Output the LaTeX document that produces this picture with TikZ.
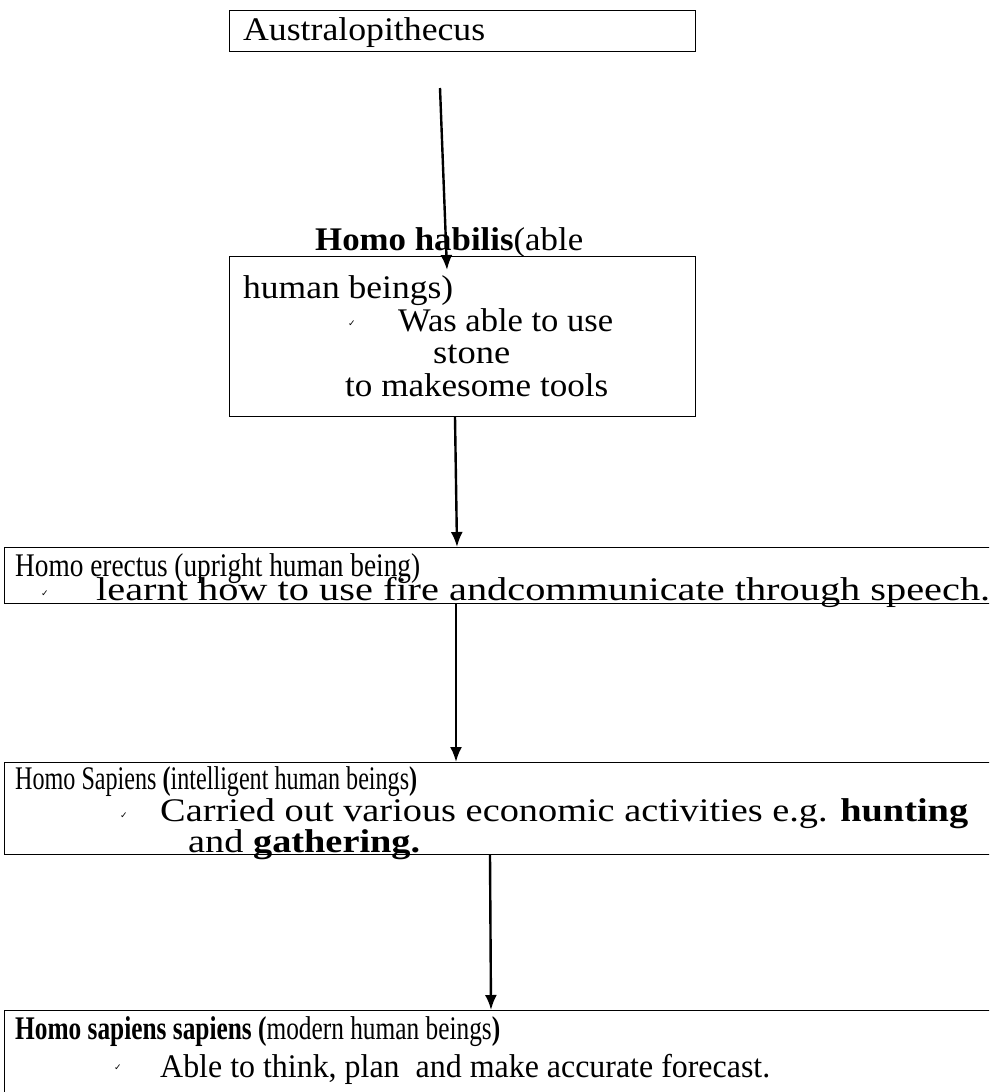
\documentclass[tikz,border=0pt]{standalone}
\usepackage{fontspec}
\setmainfont{Liberation Serif}
\newfontfamily\symfont{DejaVu Sans}
\usetikzlibrary{arrows.meta}
\newcommand\fitw[2]{\resizebox{#1pt}{\height}{#2}}
\tikzset{
  box/.style={draw=black, line width=1.1pt, inner sep=0pt, anchor=north west},
  txt/.style={anchor=base west, inner sep=0pt, font=\fontsize{33}{38}\selectfont},
  tick/.style={anchor=center, inner sep=0pt, font=\symfont\fontsize{9}{10}\selectfont},
  arr/.style={-{Latex[length=15pt,width=12pt]}, line width=2.4pt}
}
\begin{document}
\begin{tikzpicture}[x=1pt,y=-1pt]
\useasboundingbox (0,0) rectangle (989,1092);
\clip (0,0) rectangle (989,1092);
% boxes
\node[box, minimum width=466pt, minimum height=41pt] (b1) at (229,10) {};
\node[box, minimum width=466pt, minimum height=160pt] (b2) at (229,256) {};
\node[box, minimum width=1000pt, minimum height=56pt] (b3) at (4,547) {};
\node[box, minimum width=1000pt, minimum height=92pt] (b4) at (4,762) {};
\node[box, minimum width=1000pt, minimum height=100pt] (b5) at (4,1010) {};
% box 1
\node[txt] (t1) at (243,40) {\fitw{242}{Australopithecus}};
% box 2
\node[txt] (t2) at (315,250) {\fitw{268}{\textbf{Homo habilis}(able}};
\node[txt] (t3) at (243,298) {\fitw{210}{human beings)}};
\node[tick] (k1) at (352,324) {✓};
\node[txt] (t4) at (398,331) {\fitw{215}{Was able to use}};
\node[txt] (t5) at (433,363) {\fitw{77}{stone}};
\node[txt] (t6) at (345,396) {\fitw{263}{to makesome tools}};
% box 3
\node[txt] (t7) at (15,576) {\fitw{405}{Homo erectus (upright human being)}};
\node[tick] (k2) at (45,594) {✓};
\node[txt] (t8) at (96,600) {\fitw{894}{learnt how to use fire andcommunicate through speech.}};
% box 4
\node[txt] (t9) at (15,789) {\fitw{402}{Homo Sapiens \textbf{(}intelligent human beings\textbf{)}}};
\node[tick] (k3) at (124,816) {✓};
\node[txt] (t10) at (160,821) {\fitw{808}{Carried out various economic activities e.g. \textbf{hunting}}};
\node[txt] (t11) at (188,852) {\fitw{232}{and \textbf{gathering.}}};
% box 5
\node[txt] (t12) at (15,1039) {\fitw{485}{\textbf{Homo sapiens sapiens (}modern human beings\textbf{)}}};
\node[tick] (k4) at (118,1068) {✓};
\node[txt] (t13) at (160,1077) {\fitw{610}{Able to think, plan\ \ and make accurate forecast.}};
% connectors
\coordinate (a1s) at (440,88);
\coordinate (a1e) at (447,270);
\coordinate (a2s) at (455,417);
\coordinate (a2e) at (457,547);
\coordinate (a3s) at (456,604);
\coordinate (a3e) at (456,762);
\coordinate (a4s) at (490,855);
\coordinate (a4e) at (491,1010);
\draw[arr] (a1s) -- (a1e);
\draw[arr] (a2s) -- (a2e);
\draw[arr] (a3s) -- (a3e);
\draw[arr] (a4s) -- (a4e);
\end{tikzpicture}
\end{document}
